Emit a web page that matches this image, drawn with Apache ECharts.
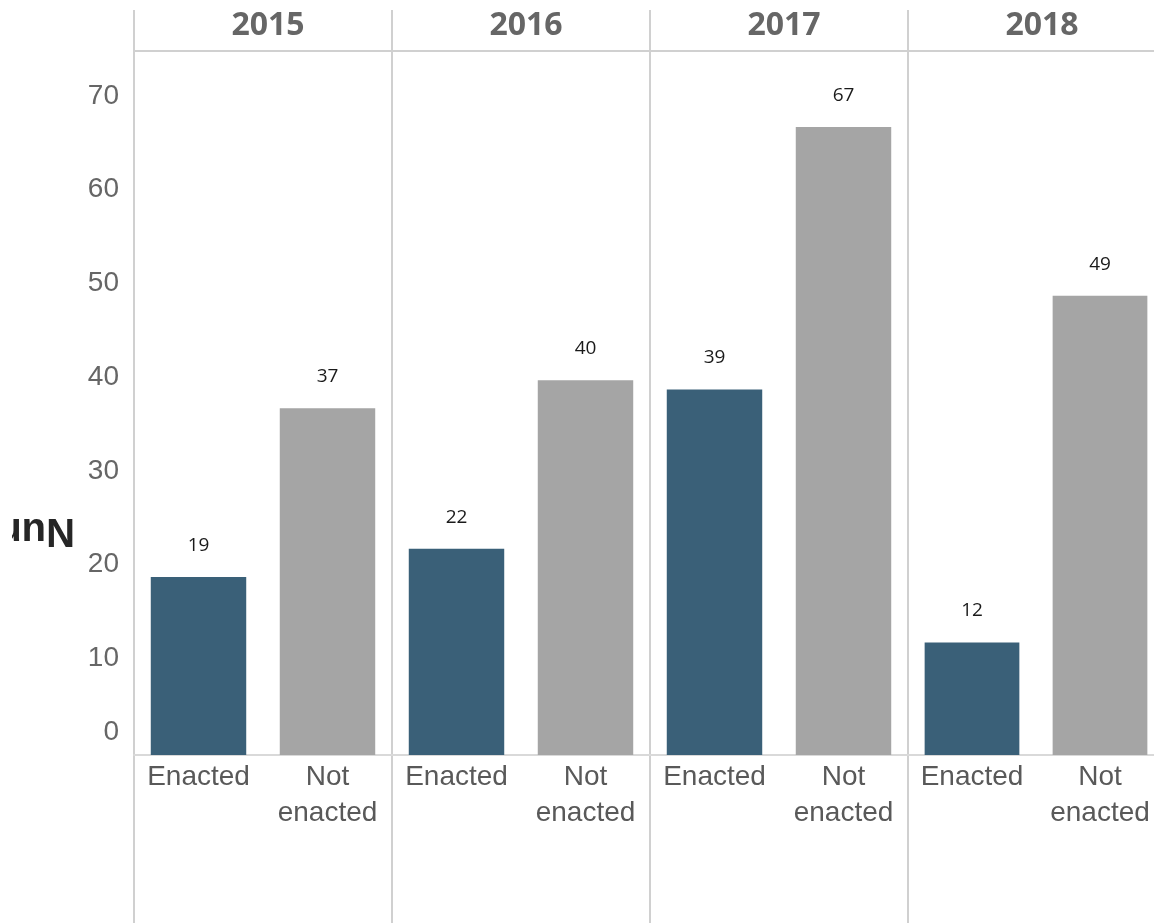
<!DOCTYPE html>
<html><head><meta charset="utf-8">
<script src="https://cdn.jsdelivr.net/npm/echarts@6/dist/echarts.min.js"></script>
<style>html,body{margin:0;padding:0;background:#fff;overflow:hidden}#c{width:1164px;height:923px}</style>
</head><body><div id="c"></div>
<script>
const years = ['2015', '2016', '2017', '2018'];
const categories = ['Enacted', 'Not\nenacted'];
const enacted = [19, 22, 39, 12];
const notEnacted = [37, 40, 67, 49];
const yMin = 0, yMax = 70, yStep = 10;
const yAxisTitle = 'Number of bills';

const chart = echarts.init(document.getElementById('c'), null, {renderer: 'canvas'});
const panelLeft = 134, panelW = 258, gridTop = 99, gridBottom = 168;
const blue = '#3a6078', grey = '#a5a5a5';
const grids = [], xAxes = [], yAxes = [], series = [], titles = [], graphics = [];
years.forEach((yr, i) => {
  const left = panelLeft + panelW * i;
  grids.push({left: left, width: panelW, top: gridTop, bottom: gridBottom, containLabel: false});
  xAxes.push({
    type: 'category', gridIndex: i, data: categories,
    axisLine: {show: true, lineStyle: {color: '#d9d9d9', width: 2}},
    axisTick: {show: false},
    axisLabel: {color: '#595959', fontSize: 28, fontFamily: 'Liberation Sans', lineHeight: 36, margin: 4, interval: 0}
  });
  yAxes.push({
    type: 'value', gridIndex: i, min: yMin, max: yMax, interval: yStep,
    splitLine: {show: false}, axisLine: {show: false}, axisTick: {show: false},
    axisLabel: i === 0 ? {
      show: true, color: '#666', fontSize: 28, fontFamily: 'Liberation Sans', margin: 15,
      formatter: v => v === 0 ? '{z|0}' : '{n|' + v + '}',
      rich: {z: {fontSize: 28, color: '#666', padding: [0, 0, 46, 0]}, n: {fontSize: 28, color: '#666', padding: [0, 0, 6, 0]}}
    } : {show: false}
  });
  series.push({
    type: 'bar', xAxisIndex: i, yAxisIndex: i, barWidth: '74%',
    data: [
      {value: enacted[i], itemStyle: {color: blue}},
      {value: notEnacted[i], itemStyle: {color: grey}}
    ],
    label: {show: true, position: 'top', distance: 22, color: '#1a1a1a', fontSize: 19, fontFamily: 'Open Sans'}
  });
  titles.push({
    text: yr, left: left + panelW / 2, top: 5, textAlign: 'center',
    textStyle: {color: '#666', fontSize: 32, fontWeight: 'bold', fontFamily: 'Open Sans'}
  });
  graphics.push({type: 'line', shape: {x1: left, y1: 10, x2: left, y2: 923}, style: {stroke: '#d0d0d0', lineWidth: 2}, silent: true});
});
graphics.push({type: 'line', shape: {x1: panelLeft, y1: 51, x2: 1164, y2: 51}, style: {stroke: '#d0d0d0', lineWidth: 2}, silent: true});
graphics.push({type: 'text', x: 75, y: 530, rotation: Math.PI, z: 10,
  style: {text: yAxisTitle, fill: '#262626', fontSize: 40, fontWeight: 'bold', fontFamily: 'Liberation Sans', textAlign: 'left', textVerticalAlign: 'middle', verticalAlign: 'middle'}});
graphics.push({type: 'rect', shape: {x: 0, y: 490, width: 12, height: 80}, style: {fill: '#fff'}, z: 20, silent: true});

chart.setOption({
  animation: false,
  backgroundColor: '#fff',
  title: titles,
  grid: grids, xAxis: xAxes, yAxis: yAxes, series: series,
  graphic: graphics
});
</script></body></html>
